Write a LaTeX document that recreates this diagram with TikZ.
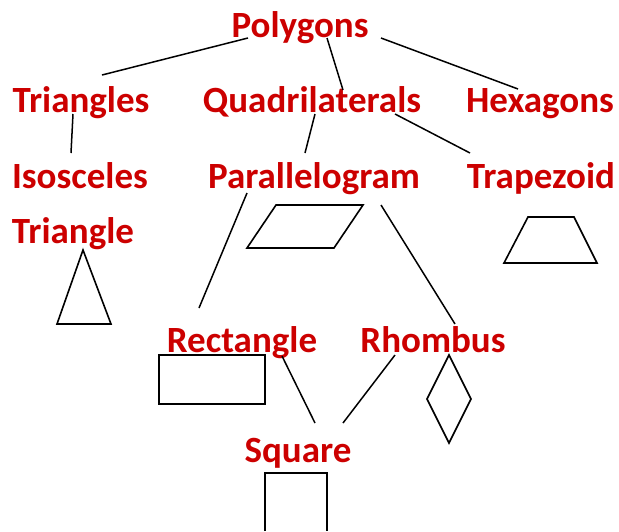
\documentclass[tikz,border=0pt]{standalone}
\usepackage{fontspec}
\setmainfont{Carlito}
\usetikzlibrary{positioning}
\definecolor{polyred}{RGB}{204,0,0}

\begin{document}
\begin{tikzpicture}[x=1pt,y=-1pt,
  lbl/.style={text=polyred,font=\bfseries\fontsize{37}{40}\selectfont,
              inner sep=0pt,anchor=base},
  link/.style={draw,line width=1.5pt},
  shp/.style={draw,line width=1.6pt,line join=miter}]

  \useasboundingbox (0,0) rectangle (619,531);

  % --- names ---
  \node[lbl] (poly) at (300,37)  {Polygons};
  \node[lbl] (tri)  at (81,112)  {Triangles};
  \node[lbl] (quad) at (312,112) {Quadrilaterals};
  \node[lbl] (hex)  at (540,112) {Hexagons};
  \node[lbl] (iso)  at (80,188)  {Isosceles};
  \node[lbl] (isob) at (73,243)  {Triangle};
  \node[lbl] (para) at (314,188) {Parallelogram};
  \node[lbl] (trap) at (541,188) {Trapezoid};
  \node[lbl] (rect) at (242,352) {Rectangle};
  \node[lbl] (rhom) at (433,352) {Rhombus};
  \node[lbl] (sq)   at (298,462) {Square};

  % --- connector ends ---
  \coordinate (polyA) at (248,38);  \coordinate (triA)  at (102,75);
  \coordinate (polyB) at (327,38);  \coordinate (quadA) at (343,90);
  \coordinate (polyC) at (381,38);  \coordinate (hexA)  at (518,89);
  \coordinate (triB)  at (73,114);  \coordinate (isoA)  at (71,153);
  \coordinate (quadB) at (315,114); \coordinate (paraA) at (305,153);
  \coordinate (quadC) at (395,114); \coordinate (trapA) at (470,153);
  \coordinate (paraB) at (247,193); \coordinate (rectA) at (199,308);
  \coordinate (paraC) at (381,205); \coordinate (rhomA) at (455,324);
  \coordinate (rectB) at (282,356); \coordinate (sqA)   at (315,423);
  \coordinate (rhomB) at (395,355); \coordinate (sqB)   at (343,423);

  \foreach \a/\b in {polyA/triA,polyB/quadA,polyC/hexA,triB/isoA,
                     quadB/paraA,quadC/trapA,paraB/rectA,paraC/rhomA,
                     rectB/sqA,rhomB/sqB}
    \path[link] (\a) -- (\b);

  % --- shapes ---
  \path[shp] (83,250) -- (111,324) -- (57,324) -- cycle;
  \path[shp] (276,205) -- (363,205) -- (334,248) -- (247,248) -- cycle;
  \path[shp] (528,217) -- (574,217) -- (597,263) -- (504,263) -- cycle;
  \path[shp] (159,355) rectangle (265,404);
  \path[shp] (449,355) -- (471,399) -- (449,443) -- (427,399) -- cycle;
  \path[shp] (265,531) -- (265,473) -- (327,473) -- (327,531);
\end{tikzpicture}
\end{document}
